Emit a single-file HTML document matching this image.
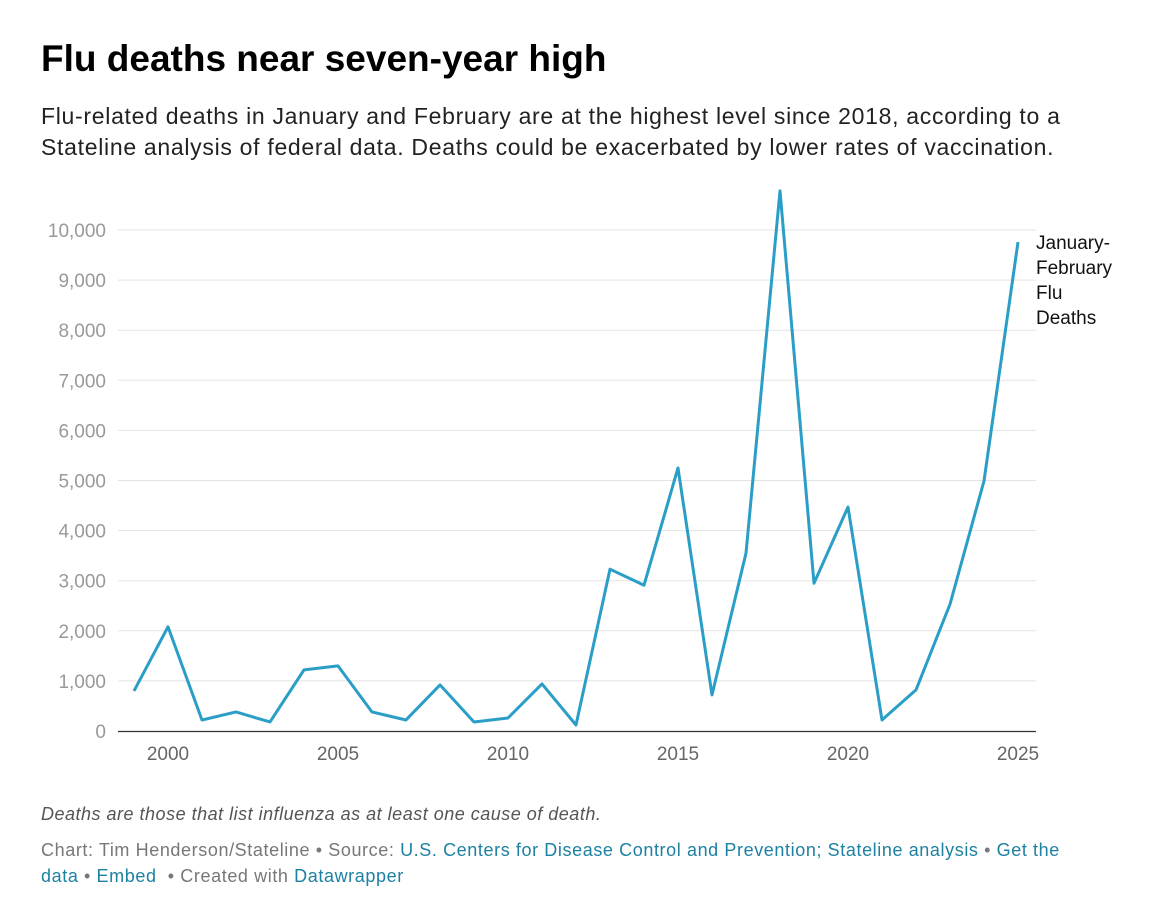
<!DOCTYPE html>
<html><head><meta charset="utf-8"><style>
body{margin:0;background:#fff;font-family:"Liberation Sans",sans-serif;}
#wrap{position:relative;width:1160px;height:914px;}
h1{position:absolute;left:41px;top:38px;margin:0;font-size:37px;font-weight:bold;color:#000;letter-spacing:0px}
.sub{position:absolute;left:41px;top:101px;width:1110px;font-size:23px;line-height:31px;color:#222;white-space:nowrap;letter-spacing:0.7px}
.note{position:absolute;left:41px;top:804px;font-size:18px;font-style:italic;color:#555;letter-spacing:0.5px}
.foot{position:absolute;left:41px;top:837px;width:1110px;font-size:18px;line-height:26px;color:#777;white-space:nowrap;letter-spacing:0.6px}
.foot a{color:#1d81a2;text-decoration:none}
</style></head><body><div id="wrap">
<h1>Flu deaths near seven-year high</h1>
<div class="sub">Flu-related deaths in January and February are at the highest level since 2018, according to a<br>Stateline analysis of federal data. Deaths could be exacerbated by lower rates of vaccination.</div>
<svg id="chart" width="1160" height="914" style="position:absolute;left:0;top:0"></svg>
<div class="note">Deaths are those that list influenza as at least one cause of death.</div>
<div class="foot">Chart: Tim Henderson/Stateline • Source: <a href="#">U.S. Centers for Disease Control and Prevention; Stateline analysis</a> • <a href="#">Get the<br>data</a> • <a href="#">Embed</a> &nbsp;• Created with <a href="#">Datawrapper</a></div>
</div>
<script>
const years=[1999,2000,2001,2002,2003,2004,2005,2006,2007,2008,2009,2010,2011,2012,2013,2014,2015,2016,2017,2018,2019,2020,2021,2022,2023,2024,2025];
const deaths=[800,2080,220,380,180,1220,1300,380,220,920,180,260,940,120,3230,2910,5250,720,3550,10780,2950,4470,220,820,2530,4990,9760];
const yTicks=[0,1000,2000,3000,4000,5000,6000,7000,8000,9000,10000];
const xTicks=[2000,2005,2010,2015,2020,2025];
const NS="http://www.w3.org/2000/svg";
const svg=document.getElementById('chart');
const x=v=>168+(v-2000)*34;
const y=v=>731-v*0.0501;
function mk(t,a){const e=document.createElementNS(NS,t);for(const k in a)e.setAttribute(k,a[k]);svg.appendChild(e);return e;}
yTicks.forEach(t=>{
 if(t>0){const g=mk('line',{x1:118,x2:1036,y1:y(t),y2:y(t),stroke:'#e3e3e3','stroke-width':1});
 
 }
 const l=mk('text',{x:106,y:y(t)+7,'text-anchor':'end','font-size':19,fill:'#999','font-family':'Liberation Sans, sans-serif'});
 l.textContent=t.toLocaleString('en-US');
 
 
});
const ax=mk('line',{x1:118,x2:1036,y1:731.5,y2:731.5,stroke:'#333','stroke-width':1.3});


xTicks.forEach(t=>{
 const l=mk('text',{x:x(t),y:760,'text-anchor':'middle','font-size':19,fill:'#666','font-family':'Liberation Sans, sans-serif'});
 l.textContent=t;
 
 
});
const p=mk('polyline',{points:years.map((yr,i)=>x(yr)+','+y(deaths[i])).join(' '),fill:'none',stroke:'#2a9ec7','stroke-width':3,'stroke-linejoin':'round'});


const lab=mk('text',{x:1036,y:249,'font-size':19,fill:'#111','font-family':'Liberation Sans, sans-serif'});


['January-','February','Flu','Deaths'].forEach((s,i)=>{const ts=document.createElementNS(NS,'tspan');ts.setAttribute('x',1036);ts.setAttribute('dy',i?25:0);ts.textContent=s;lab.appendChild(ts);});
</script></body></html>
